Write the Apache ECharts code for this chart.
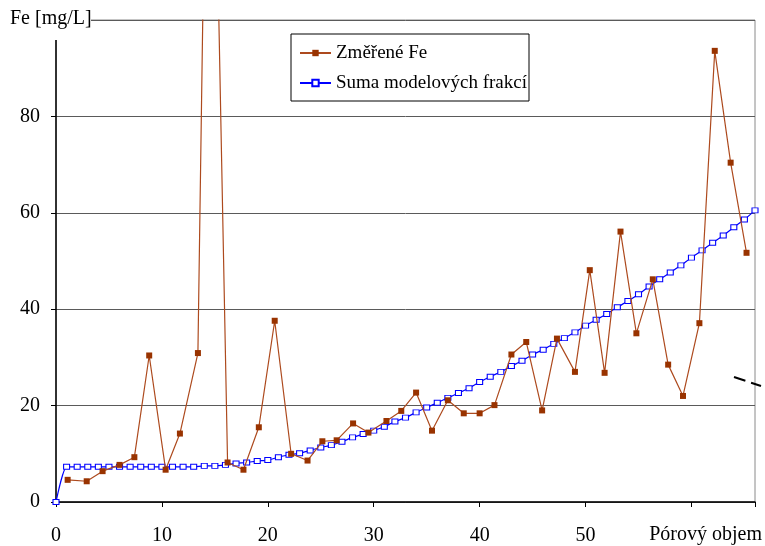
<!DOCTYPE html>
<html>
<head>
<meta charset="utf-8">
<script src="https://cdn.jsdelivr.net/npm/echarts@6/dist/echarts.min.js"></script>
<style>
  html, body { margin:0; padding:0; background:#fff; }
  #chart { width:765px; height:546px; }
</style>
</head>
<body>
<div id="chart"></div>
<script>
// measured Fe (x = pore volume, y = mg/L)
var feX = [1.1, 2.9, 4.4, 6.0, 7.4, 8.8, 10.35, 11.7, 13.4, 14.5, 16.2, 17.7, 19.15, 20.65, 22.2, 23.75, 25.15, 26.5, 28.05, 29.5,
           31.2, 32.6, 34.0, 35.5, 37.0, 38.5, 40.0, 41.4, 43.0, 44.4, 45.9, 47.3, 49.0, 50.4, 51.8, 53.3, 54.8, 56.35, 57.8, 59.2,
           60.75, 62.2, 63.7, 65.2];
var feY = [4.6, 4.3, 6.4, 7.7, 9.3, 30.4, 6.7, 14.2, 30.9, 198, 8.2, 6.7, 15.5, 37.6, 10.0, 8.6, 12.6, 12.8, 16.3, 14.4,
           16.8, 18.9, 22.7, 14.8, 21.1, 18.4, 18.4, 20.1, 30.6, 33.2, 19.0, 33.9, 27.0, 48.1, 26.8, 56.1, 35.0, 46.2, 28.5, 22.0,
           37.1, 93.6, 70.4, 51.7];

// sum of model fractions
var sumX = [0, 1, 2, 3, 4, 5, 6, 7, 8, 9, 10, 11, 12, 13, 14, 15, 16, 17, 18, 19, 20, 21, 22, 23, 24, 25, 26, 27, 28, 29, 30,
            31, 32, 33, 34, 35, 36, 37, 38, 39, 40, 41, 42, 43, 44, 45, 46, 47, 48, 49, 50, 51, 52, 53, 54, 55, 56, 57, 58, 59, 60,
            61, 62, 63, 64, 65, 66];
var sumY = [0, 7.3, 7.3, 7.3, 7.3, 7.3, 7.3, 7.3, 7.3, 7.3, 7.3, 7.3, 7.3, 7.3, 7.5, 7.5, 7.7, 8.0, 8.2, 8.5, 8.7,
            9.3, 9.8, 10.1, 10.7, 11.3, 11.8, 12.5, 13.4, 14.1, 14.8, 15.6, 16.7, 17.5, 18.6, 19.6, 20.6, 21.6, 22.6, 23.6, 24.9,
            26.0, 27.0, 28.2, 29.3, 30.6, 31.6, 32.8, 34.0, 35.2, 36.6, 37.8, 39.0, 40.4, 41.7, 43.1, 44.7, 46.2, 47.6, 49.1, 50.7,
            52.2, 53.8, 55.3, 57.0, 58.6, 60.5];

var xTicks = [0, 10, 20, 30, 40, 50];
var yTicks = [0, 20, 40, 60, 80];

var seriesNames = ['Změřené Fe', 'Suma modelových frakcí'];

function pairs(xs, ys){
  var out=[];
  for(var i=0;i<xs.length;i++){ out.push([xs[i], ys[i]]); }
  return out;
}

var FONT = '"Liberation Serif", "Times New Roman", serif';

var chart = echarts.init(document.getElementById('chart'));
var option = {
  backgroundColor: '#fff',
  animation: false,
  grid: { left:56, right:10, top:20, bottom:41, show:true, borderColor:'#8a8a8a', borderWidth:1, backgroundColor:'transparent' },
  legend: {
    left: 291, top: 34,
    orient: 'vertical',
    itemWidth: 31, itemHeight: 8, itemGap: 0,
    padding: [4, 2, 3, 8],
    borderColor: '#000', borderWidth: 1, borderRadius: 0,
    backgroundColor: '#fff',
    textStyle: { fontFamily: FONT, fontSize: 19, color: '#000', lineHeight: 30 },
    data: seriesNames
  },
  xAxis: {
    type: 'value', min: 0, max: 66, interval: 10,
    axisLine: { show:true, lineStyle:{ color:'#000', width:1.5 } },
    axisTick: { show:true, length:5, lineStyle:{ color:'#000' } },
    splitLine: { show:false },
    axisLabel: {
      fontFamily: FONT, fontSize: 20, color:'#000', margin: 24,
      formatter: function(v){ return xTicks.indexOf(v) >= 0 ? String(v) : ''; }
    }
  },
  yAxis: {
    type: 'value', min: 0, max: 100, interval: 20,
    axisLine: { show:true, lineStyle:{ color:'#000', width:1.5 } },
    axisTick: { show:true, length:5, lineStyle:{ color:'#000' } },
    splitLine: { show:true, lineStyle:{ color:'#5a5a5a', width:1 } },
    axisLabel: {
      fontFamily: FONT, fontSize: 20, color:'#000', margin: 16,
      formatter: function(v){ return yTicks.indexOf(v) >= 0 ? String(v) : ''; }
    }
  },
  graphic: [
    { type:'rect', left:8, top:0, z:100, shape:{ width:83, height:40 }, style:{ fill:'#fff' } },
    { type:'text', left:10, top:9, z:101, style:{ text:'Fe [mg/L]', font:'20px ' + FONT, fill:'#000' } },
    { type:'text', right:3, top:525, z:101, style:{ text:'Pórový objem', font:'20px ' + FONT, fill:'#000' } },
    { type:'line', z:101, shape:{ x1:734, y1:377, x2:761, y2:386 }, style:{ stroke:'#000', lineWidth:2, lineDash:[12,6] } }
  ],
  series: [
    {
      name: seriesNames[0], type: 'line',
      data: pairs(feX, feY),
      symbol: 'rect', symbolSize: 6,
      lineStyle: { color:'#ad4a1e', width:1.2 },
      itemStyle: { color:'#993300' },
      z: 3
    },
    {
      name: seriesNames[1], type: 'line',
      data: pairs(sumX, sumY),
      smooth: 0.2,
      symbol: 'rect', symbolSize: [6,5], showAllSymbol: true,
      lineStyle: { color:'#0000ff', width:1.2 },
      itemStyle: { color:'#fff', borderColor:'#0000ff', borderWidth:1 },
      z: 2
    }
  ]
};
chart.setOption(option, true);
</script>
</body>
</html>
